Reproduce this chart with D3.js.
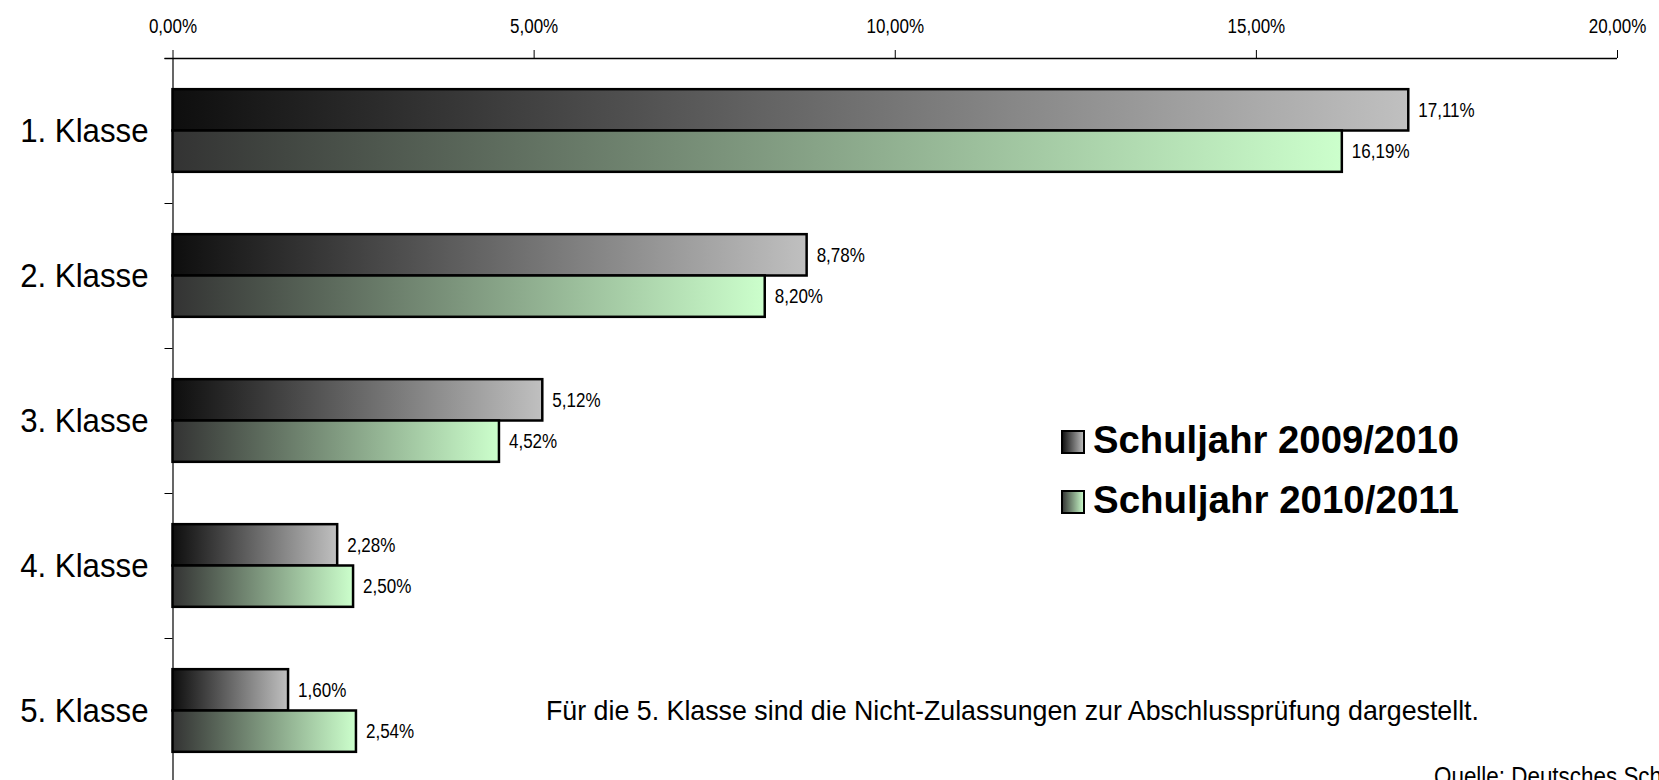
<!DOCTYPE html>
<html>
<head>
<meta charset="utf-8">
<script src="https://cdn.jsdelivr.net/npm/d3@7"></script>
<style>
  body { margin: 0; background: #fff; }
  svg { display: block; font-family: "Liberation Sans", Arial, sans-serif; }
</style>
</head>
<body>
<svg id="chart"></svg>
<script>
// data
const categories = ["1. Klasse", "2. Klasse", "3. Klasse", "4. Klasse", "5. Klasse"];
const seriesNames = ["Schuljahr 2009/2010", "Schuljahr 2010/2011"];
const values2009 = [17.11, 8.78, 5.12, 2.28, 1.60];
const values2010 = [16.19, 8.20, 4.52, 2.50, 2.54];
const xTicks = [0, 5, 10, 15, 20];
const footnote = "Für die 5. Klasse sind die Nicht-Zulassungen zur Abschlussprüfung dargestellt.";
const source = "Quelle: Deutsches Sch";

const width = 1659, height = 780;
const margin = {top: 58, left: 172.5, right: 42, bottom: -3};

const de = d3.formatLocale({decimal: ",", thousands: ".", grouping: [3], currency: ["", "€"]});
const pct = v => de.format(".2f")(v) + "%";

// squeeze text a bit, the original font renders narrow
function condense(sel, k) {
  sel.each(function () {
    const w = this.getComputedTextLength();
    d3.select(this).attr("textLength", w * k).attr("lengthAdjust", "spacingAndGlyphs");
  });
}

const svg = d3.select("#chart").attr("width", width).attr("height", height);

// gradients
const defs = svg.append("defs");
const gradStops = [["#0e0e0e", "#c0c0c0"], ["#333333", "#ccffcc"]];
gradStops.forEach((c, i) => {
  const g = defs.append("linearGradient").attr("id", "grad" + i)
    .attr("x1", 0).attr("x2", 1).attr("y1", 0).attr("y2", 0);
  g.append("stop").attr("offset", "0%").attr("stop-color", c[0]);
  g.append("stop").attr("offset", "100%").attr("stop-color", c[1]);
});

const x = d3.scaleLinear().domain([0, 20]).range([margin.left, width - margin.right]);
const y = d3.scaleBand().domain(categories)
  .range([margin.top, height - margin.bottom])
  .paddingInner(0.43).paddingOuter(0.215);
const ySub = d3.scaleBand().domain([0, 1]).range([0, y.bandwidth()]);
// band edges for the left axis ticks
const yEdge = d3.scaleLinear().domain([0, categories.length]).range([margin.top, height - margin.bottom]);

// x axis on top
svg.append("g")
  .attr("transform", `translate(0,${margin.top})`)
  .call(d3.axisTop(x).tickValues(xTicks).tickSize(8).tickSizeOuter(0).tickPadding(17)
    .tickFormat(pct))
  .call(g => g.select(".domain").attr("stroke", "#000").attr("stroke-width", 1.5)
    .attr("d", `M${margin.left - 8},0.5H${x(20)}`))
  .call(g => g.selectAll(".tick line").attr("stroke", "#000"))
  .call(g => g.selectAll(".tick text").attr("font-size", 20).attr("fill", "#000")
    .attr("font-family", "'Liberation Sans', Arial, sans-serif")
    .call(condense, 0.85));

// y axis
svg.append("g")
  .attr("transform", `translate(${margin.left},0)`)
  .call(d3.axisLeft(yEdge).tickValues(d3.range(categories.length + 1)).tickSize(8)
    .tickSizeOuter(0).tickFormat(""))
  .call(g => g.select(".domain").attr("stroke", "#000").attr("stroke-width", 1.2))
  .call(g => g.selectAll(".tick line").attr("stroke", "#000"));

// category labels
svg.append("g").selectAll("text")
  .data(categories).join("text")
  .attr("x", margin.left - 24)
  .attr("y", d => y(d) + y.bandwidth() / 2)
  .attr("dy", "0.35em")
  .attr("text-anchor", "end")
  .attr("font-size", 32.5)
  .text(d => d)
  .call(condense, 0.96);

// bars
const rows = categories.map((c, i) => ({cat: c, vals: [values2009[i], values2010[i]]}));
const grp = svg.append("g").selectAll("g")
  .data(rows).join("g")
  .attr("transform", d => `translate(0,${y(d.cat)})`);

grp.selectAll("rect")
  .data(d => d.vals.map((v, s) => ({v, s})))
  .join("rect")
  .attr("x", x(0))
  .attr("y", d => ySub(d.s))
  .attr("width", d => x(d.v) - x(0))
  .attr("height", ySub.bandwidth())
  .attr("fill", d => `url(#grad${d.s})`)
  .attr("stroke", "#000")
  .attr("stroke-width", 2.5);

grp.selectAll("text")
  .data(d => d.vals.map((v, s) => ({v, s})))
  .join("text")
  .attr("x", d => x(d.v) + 10)
  .attr("y", d => ySub(d.s) + ySub.bandwidth() / 2)
  .attr("dy", "0.35em")
  .attr("font-size", 20.5)
  .text(d => pct(d.v))
  .call(condense, 0.83);

// legend
const legend = svg.append("g").attr("transform", "translate(1062,0)");
const legY = [453, 513];
seriesNames.forEach((name, i) => {
  legend.append("rect")
    .attr("x", 0).attr("y", legY[i] - 22)
    .attr("width", 22).attr("height", 22)
    .attr("fill", `url(#grad${i})`)
    .attr("stroke", "#000").attr("stroke-width", 2);
  legend.append("text")
    .attr("x", 31).attr("y", legY[i])
    .attr("font-size", 38).attr("font-weight", "bold")
    .attr("textLength", 366).attr("lengthAdjust", "spacingAndGlyphs")
    .text(name);
});

// notes
svg.append("text")
  .attr("x", 546).attr("y", 720)
  .attr("font-size", 28)
  .attr("textLength", 933).attr("lengthAdjust", "spacingAndGlyphs")
  .text(footnote);

svg.append("text")
  .attr("x", 1434).attr("y", 785)
  .attr("font-size", 25)
  .attr("textLength", 228).attr("lengthAdjust", "spacingAndGlyphs")
  .text(source);
</script>
</body>
</html>
